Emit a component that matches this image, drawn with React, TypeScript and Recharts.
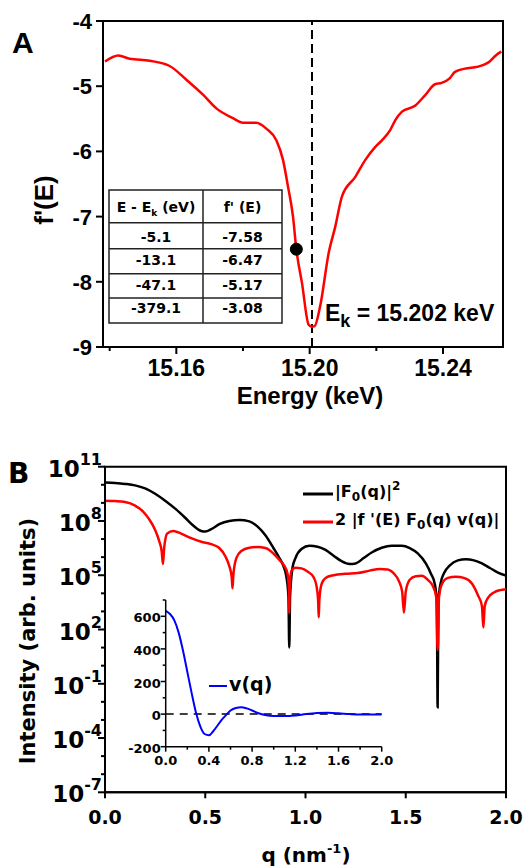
import React from 'react';
import { LineChart, Line, XAxis, YAxis, ReferenceLine, ReferenceDot, ReferenceArea } from 'recharts';

const ARIAL = '"Liberation Sans", Arial, sans-serif';
const DEJAVU = '"DejaVu Sans", sans-serif';

// ---------- Panel A data ----------
const energyKeV = [
  15.1386, 15.1426, 15.146, 15.152, 15.158, 15.163, 15.168, 15.172, 15.177, 15.18,
  15.184, 15.187, 15.19, 15.192, 15.1935, 15.195, 15.196, 15.1977, 15.1997, 15.2006,
  15.2015, 15.2032, 15.2057, 15.2077, 15.2097, 15.2137, 15.2167, 15.2197, 15.2217, 15.2242,
  15.2257, 15.2277, 15.2316, 15.2346, 15.2376, 15.2396, 15.242, 15.2436, 15.2466, 15.2505,
  15.254, 15.256, 15.2575,
];
const fPrime = [
  -4.62, -4.53, -4.58, -4.61, -4.69, -4.9, -5.13, -5.34, -5.49, -5.56,
  -5.56, -5.65, -5.83, -6.13, -6.54, -7.0, -7.5, -8.02, -8.66, -8.69,
  -8.68, -8.36, -7.56, -7.15, -6.69, -6.39, -6.13, -5.93, -5.83, -5.67,
  -5.52, -5.39, -5.3, -5.14, -4.97, -4.95, -4.88, -4.78, -4.73, -4.7,
  -4.62, -4.52, -4.47,
];
const edgeEnergy = 15.2007;
const markedEnergy = 15.196;
const markedF = -7.5;
const tableHeader = ['E - E', "f' (E)"];
const tableDeltaE = ['-5.1', '-13.1', '-47.1', '-379.1'];
const tableF = ['-7.58', '-6.47', '-5.17', '-3.08'];
const xTicksA = [15.14, 15.16, 15.18, 15.2, 15.22, 15.24];
const xLabelsA = [15.16, 15.2, 15.24];
const yTicksA = [-9, -8, -7, -6, -5, -4];

// ---------- Panel B data ----------
const qF0 = [
  0, 0.05, 0.1, 0.15, 0.2, 0.25, 0.3, 0.35, 0.4, 0.44,
  0.48, 0.5, 0.53, 0.57, 0.62, 0.67, 0.72, 0.76, 0.8, 0.84,
  0.87, 0.89, 0.905, 0.915, 0.919, 0.923, 0.935, 0.95, 0.98, 1.02,
  1.06, 1.1, 1.14, 1.18, 1.22, 1.25, 1.29, 1.33, 1.38, 1.43,
  1.48, 1.52, 1.56, 1.6, 1.625, 1.645, 1.655, 1.659, 1.663, 1.675,
  1.69, 1.72, 1.76, 1.8, 1.84, 1.88, 1.92, 1.96, 2.0,
];
const intF0 = [
  1.35e10, 1.26e10, 1.12e10, 9.3e9, 6.3e9, 3.2e9, 1.32e9, 4.8e8, 1.5e8, 5.6e7,
  2.8e7, 2.6e7, 3.5e7, 6.6e7, 1.0e8, 1.12e8, 9.5e7, 5.0e7, 1.6e7, 3.2e6,
  8.9e5, 3.2e5, 7.9e4, 6.3e3, 1.0e1, 6.3e3, 2.5e5, 8.9e5, 2.8e6, 4.2e6,
  3.8e6, 2.5e6, 1.2e6, 6.0e5, 4.2e5, 4.5e5, 8.9e5, 1.8e6, 3.3e6, 4.3e6,
  4.3e6, 3.2e6, 1.6e6, 4.5e5, 1.26e5, 3.2e4, 3.2e3, 5.0e-3, 4.0e3, 4.0e4,
  1.26e5, 3.5e5, 6.6e5, 7.6e5, 6.6e5, 4.5e5, 2.5e5, 1.4e5, 9.5e4,
];
const qCross = [
  0, 0.05, 0.1, 0.15, 0.19, 0.22, 0.25, 0.27, 0.283, 0.289,
  0.295, 0.31, 0.34, 0.38, 0.43, 0.48, 0.53, 0.57, 0.6, 0.62,
  0.632, 0.636, 0.64, 0.655, 0.68, 0.72, 0.76, 0.8, 0.84, 0.87,
  0.895, 0.91, 0.917, 0.919, 0.921, 0.93, 0.95, 0.98, 1.01, 1.04,
  1.055, 1.063, 1.066, 1.069, 1.08, 1.1, 1.14, 1.2, 1.26, 1.32,
  1.37, 1.41, 1.44, 1.465, 1.482, 1.491, 1.5, 1.52, 1.55, 1.58,
  1.61, 1.635, 1.652, 1.659, 1.666, 1.68, 1.71, 1.75, 1.79, 1.83,
  1.86, 1.88, 1.887, 1.894, 1.91, 1.94, 1.97, 2.0,
];
const intCross = [
  1.32e9, 1.26e9, 1.12e9, 7.1e8, 3.3e8, 1.26e8, 3.2e7, 7.9e6, 2.0e6, 4.2e5,
  3.2e6, 2.0e7, 2.8e7, 2.0e7, 1.12e7, 7.1e6, 5.2e6, 3.2e6, 1.12e6, 3.2e5,
  7.9e4, 1.9e4, 1.0e5, 8.9e5, 2.2e6, 3.3e6, 3.6e6, 3.2e6, 1.6e6, 7.1e5,
  3.2e5, 1.26e5, 2.0e4, 7.8e2, 2.0e4, 1.8e5, 2.6e5, 2.4e5, 1.6e5, 7.9e4,
  2.5e4, 4.0e3, 4.7e2, 4.0e3, 3.2e4, 7.1e4, 1.0e5, 1.2e5, 1.32e5, 1.8e5,
  2.2e5, 2.1e5, 1.26e5, 5.0e4, 1.26e4, 8.5e2, 1.26e4, 5.6e4, 8.9e4, 9.5e4,
  5.6e4, 2.5e4, 6.3e3, 7.4e0, 6.3e3, 3.2e4, 7.1e4, 8.3e4, 7.1e4, 3.5e4,
  7.9e3, 2.0e3, 1.3e2, 2.0e3, 5.6e3, 1.12e4, 1.5e4, 1.7e4,
];
const yTicksB = [
  1e-7, 1e-6, 1e-5, 1e-4, 1e-3, 1e-2, 1e-1, 1e0, 1e1, 1e2,
  1e3, 1e4, 1e5, 1e6, 1e7, 1e8, 1e9, 1e10, 1e11,
];
const yLabelExpB = [-7, -4, -1, 2, 5, 8, 11];
const xTicksB = [0, 0.5, 1, 1.5, 2];

// ---------- Inset data ----------
const qV = [
  0, 0.04, 0.08, 0.12, 0.16, 0.2, 0.24, 0.28, 0.32, 0.36,
  0.4, 0.44, 0.48, 0.52, 0.56, 0.6, 0.65, 0.7, 0.75, 0.8,
  0.86, 0.92, 1.0, 1.1, 1.2, 1.3, 1.4, 1.5, 1.6, 1.7,
  1.8, 1.9, 2.0,
];
const vOfQ = [
  634, 614, 575, 500, 390, 260, 130, 10, -75, -122,
  -130, -105, -70, -34, -5, 22, 38, 42, 35, 22,
  5, -6, -12, -12, -8, 0, 6, 8, 5, 0,
  -3, -3, -2,
];
const xTicksInset = [0, 0.2, 0.4, 0.6, 0.8, 1.0, 1.2, 1.4, 1.6, 1.8, 2.0];
const xLabelsInset = [0, 0.4, 0.8, 1.2, 1.6, 2.0];
const yTicksInset = [-200, -100, 0, 100, 200, 300, 400, 500, 600, 700];
const yLabelsInset = [-200, 0, 200, 400, 600];

const dataA = energyKeV.map((e, i) => ({ e, f: fPrime[i] }));
const dataF0 = qF0.map((q, i) => ({ q, I: intF0[i] }));
const dataCross = qCross.map((q, i) => ({ q, I: intCross[i] }));
const dataV = qV.map((q, i) => ({ q, v: vOfQ[i] }));

const near = (a: number, list: number[]) => list.some((m) => Math.abs(m - a) < 1e-6);

const AXTick = (p: any) => {
  const { x, y, payload } = p;
  const v = payload.value;
  const major = near(v, xLabelsA);
  return (
    <g>
      <line x1={x} x2={x} y1={y} y2={y + (major ? 7 : 4)} stroke="#000" strokeWidth={2} />
      {major && (
        <text x={x} y={y + 29} textAnchor="middle" fontFamily={ARIAL} fontWeight={700} fontSize={23} fill="#000">
          {v.toFixed(2)}
        </text>
      )}
    </g>
  );
};

const AYTick = (p: any) => {
  const { x, y, payload } = p;
  return (
    <g>
      <line x1={x - 7} x2={x} y1={y} y2={y} stroke="#000" strokeWidth={2} />
      <text x={x - 11} y={y + 8} textAnchor="end" fontFamily={ARIAL} fontWeight={700} fontSize={22} fill="#000">
        {String(payload.value)}
      </text>
    </g>
  );
};

const BXTick = (p: any) => {
  const { x, y, payload } = p;
  return (
    <g>
      <line x1={x} x2={x} y1={y} y2={y + 6} stroke="#000" strokeWidth={2} />
      <text x={x} y={y + 32} textAnchor="middle" fontFamily={DEJAVU} fontWeight={700} fontSize={19} fill="#000">
        {payload.value.toFixed(1)}
      </text>
    </g>
  );
};

const BYTick = (p: any) => {
  const { x, y, payload } = p;
  const e = Math.round(Math.log10(payload.value));
  const major = yLabelExpB.includes(e);
  return (
    <g>
      <line x1={x - (major ? 7 : 4)} x2={x} y1={y} y2={y} stroke="#000" strokeWidth={2} />
      {major && (
        <text x={x - 3} y={y + 10} textAnchor="end" fontFamily={DEJAVU} fontWeight={700} fill="#000">
          <tspan fontSize={23}>10</tspan>
          <tspan fontSize={16} dy={-12}>{String(e)}</tspan>
        </text>
      )}
    </g>
  );
};

const IXTick = (p: any) => {
  const { x, y, payload } = p;
  const v = payload.value;
  const major = near(v, xLabelsInset);
  return (
    <g>
      <line x1={x} x2={x} y1={y} y2={y + (major ? 5 : 3)} stroke="#000" strokeWidth={1.5} />
      {major && (
        <text x={x} y={y + 18} textAnchor="middle" fontFamily={DEJAVU} fontWeight={700} fontSize={13} fill="#000">
          {v.toFixed(1)}
        </text>
      )}
    </g>
  );
};

const IYTick = (p: any) => {
  const { x, y, payload } = p;
  const v = payload.value;
  const major = near(v, yLabelsInset);
  return (
    <g>
      <line x1={x - (major ? 5 : 3)} x2={x} y1={y} y2={y} stroke="#000" strokeWidth={1.5} />
      {major && (
        <text x={x - 5} y={y + 6} textAnchor="end" fontFamily={DEJAVU} fontWeight={700} fontSize={13} fill="#000">
          {String(v)}
        </text>
      )}
    </g>
  );
};

const axisLine = { stroke: '#000', strokeWidth: 2 };

// table layout
const tblX0 = 109, tblX1 = 203, tblX2 = 282;
const tblRowLines = [190, 222.7, 248.7, 273.7, 298, 323];
const tblBaselines = [211.5, 242, 265, 289.5, 313];

export default function App() {
  return (
    <div style={{ position: 'absolute', left: 0, top: 0, width: 529, height: 868, background: '#fff', overflow: 'hidden' }}>
      {/* Panel A */}
      <div style={{ position: 'absolute', left: 0, top: 0 }}>
        <LineChart width={529} height={420} margin={{ top: 21, right: 26, bottom: 33, left: 0 }}>
          <XAxis
            dataKey="e" type="number" domain={[15.138, 15.258]} allowDataOverflow
            ticks={xTicksA} interval={0} tick={<AXTick />} tickLine={false} tickSize={0} tickMargin={0}
            height={40} axisLine={axisLine}
          />
          <YAxis
            type="number" domain={[-9, -4]} allowDataOverflow ticks={yTicksA} interval={0}
            tick={<AYTick />} tickLine={false} tickSize={0} tickMargin={0} width={103} axisLine={axisLine}
          />
          <ReferenceArea x1={15.138} x2={15.258} y1={-9} y2={-4} fill="none" fillOpacity={0} stroke="#000" strokeWidth={2} />
          <ReferenceLine x={edgeEnergy} stroke="#000" strokeWidth={2} strokeDasharray="9 5" />
          <Line data={dataA} dataKey="f" type="monotone" stroke="#ff0000" strokeWidth={2.5} dot={false} isAnimationActive={false} />
          <ReferenceDot x={markedEnergy} y={markedF} r={6} fill="#000" stroke="#000" />
        </LineChart>
      </div>

      {/* Panel B */}
      <div style={{ position: 'absolute', left: 0, top: 420 }}>
        <LineChart width={529} height={448} margin={{ top: 46.7, right: 23, bottom: 35.7, left: 0 }}>
          <XAxis
            dataKey="q" type="number" domain={[0, 2]} allowDataOverflow ticks={xTicksB} interval={0}
            tick={<BXTick />} tickLine={false} tickSize={0} tickMargin={0} height={40} axisLine={axisLine}
          />
          <YAxis
            type="number" scale="log" domain={[1e-7, 1e11]} allowDataOverflow ticks={yTicksB} interval={0}
            tick={<BYTick />} tickLine={false} tickSize={0} tickMargin={0} width={105} axisLine={axisLine}
          />
          <ReferenceArea x1={0} x2={2} y1={1e-7} y2={1e11} fill="none" fillOpacity={0} stroke="#000" strokeWidth={2} />
          <Line data={dataF0} dataKey="I" type="monotone" stroke="#000" strokeWidth={2.5} dot={false} isAnimationActive={false} />
          <Line data={dataCross} dataKey="I" type="monotone" stroke="#ff0000" strokeWidth={2.5} dot={false} isAnimationActive={false} />
        </LineChart>
      </div>

      {/* Inset */}
      <div style={{ position: 'absolute', left: 100, top: 590 }}>
        <LineChart width={310} height={190} margin={{ top: 10, right: 28.3, bottom: 8.3, left: 15.7 }}>
          <XAxis
            dataKey="q" type="number" domain={[0, 2]} allowDataOverflow ticks={xTicksInset} interval={0}
            tick={<IXTick />} tickLine={false} tickSize={0} tickMargin={0} height={25}
            axisLine={{ stroke: '#000', strokeWidth: 1.5 }}
          />
          <YAxis
            type="number" domain={[-200, 700]} allowDataOverflow ticks={yTicksInset} interval={0}
            tick={<IYTick />} tickLine={false} tickSize={0} tickMargin={0} width={50}
            axisLine={{ stroke: '#000', strokeWidth: 1.5 }}
          />
          <ReferenceLine y={0} stroke="#000" strokeWidth={1.5} strokeDasharray="8 6" />
          <Line data={dataV} dataKey="v" type="monotone" stroke="#0000ff" strokeWidth={2} dot={false} isAnimationActive={false} />
        </LineChart>
      </div>

      {/* Text overlay */}
      <svg width={529} height={868} style={{ position: 'absolute', left: 0, top: 0, pointerEvents: 'none' }}>
        {/* Panel A texts */}
        <text x={12} y={53} fontFamily={ARIAL} fontWeight={700} fontSize={30} fill="#000">A</text>
        <text transform="translate(53,200) rotate(-90)" textAnchor="middle" fontFamily={ARIAL} fontWeight={700} fontSize={26} fill="#000">f'(E)</text>
        <text x={310} y={404} textAnchor="middle" fontFamily={ARIAL} fontWeight={700} fontSize={24} fill="#000">Energy (keV)</text>
        <text x={325} y={321} fontFamily={ARIAL} fontWeight={700} fontSize={23} fill="#000">
          E<tspan fontSize={18} dy={6}>k</tspan><tspan dy={-6}> = 15.202 keV</tspan>
        </text>

        {/* table */}
        <rect x={tblX0} y={tblRowLines[0]} width={tblX2 - tblX0} height={tblRowLines[5] - tblRowLines[0]} fill="#fff" stroke="#222" strokeWidth={1.5} />
        <line x1={tblX1} x2={tblX1} y1={tblRowLines[0]} y2={tblRowLines[5]} stroke="#222" strokeWidth={1.5} />
        {tblRowLines.slice(1, 5).map((yy, i) => (
          <line key={i} x1={tblX0} x2={tblX2} y1={yy} y2={yy} stroke="#222" strokeWidth={1.5} />
        ))}
        <text x={(tblX0 + tblX1) / 2} y={tblBaselines[0]} textAnchor="middle" fontFamily={DEJAVU} fontWeight={700} fontSize={14} fill="#000">
          {tableHeader[0]}<tspan fontSize={9} dy={4}>k</tspan><tspan dy={-4}> (eV)</tspan>
        </text>
        <text x={(tblX1 + tblX2) / 2} y={tblBaselines[0]} textAnchor="middle" fontFamily={DEJAVU} fontWeight={700} fontSize={14} fill="#000">
          {tableHeader[1]}
        </text>
        {tableDeltaE.map((s, i) => (
          <text key={'d' + i} x={(tblX0 + tblX1) / 2} y={tblBaselines[i + 1]} textAnchor="middle" fontFamily={DEJAVU} fontWeight={700} fontSize={14} fill="#000">{s}</text>
        ))}
        {tableF.map((s, i) => (
          <text key={'f' + i} x={(tblX1 + tblX2) / 2} y={tblBaselines[i + 1]} textAnchor="middle" fontFamily={DEJAVU} fontWeight={700} fontSize={14} fill="#000">{s}</text>
        ))}

        {/* Panel B texts */}
        <text x={8} y={483} fontFamily={DEJAVU} fontWeight={700} fontSize={28} fill="#000">B</text>
        <text transform="translate(35,641) rotate(-90)" textAnchor="middle" fontFamily={DEJAVU} fontWeight={700} fontSize={21} fill="#000">Intensity (arb. units)</text>
        <text x={306} y={862} textAnchor="middle" fontFamily={DEJAVU} fontWeight={700} fontSize={20} fill="#000">
          q (nm<tspan fontSize={13} dy={-9}>-1</tspan><tspan dy={9}>)</tspan>
        </text>

        {/* legend */}
        <line x1={303} x2={333} y1={494} y2={494} stroke="#000" strokeWidth={3} />
        <text x={335} y={497} fontFamily={DEJAVU} fontWeight={700} fontSize={16} fill="#000">
          |F<tspan fontSize={12} dy={4}>0</tspan><tspan dy={-4}>(q)|</tspan><tspan fontSize={12} dy={-7}>2</tspan>
        </text>
        <line x1={303} x2={333} y1={522} y2={522} stroke="#ff0000" strokeWidth={3} />
        <text x={335} y={525} fontFamily={DEJAVU} fontWeight={700} fontSize={16} fill="#000">
          2 |f '(E) F<tspan fontSize={12} dy={4}>0</tspan><tspan dy={-4}>(q) v(q)|</tspan>
        </text>

        {/* inset legend */}
        <line x1={209} x2={227} y1={686} y2={686} stroke="#0000ff" strokeWidth={2} />
        <text x={229} y={691} fontFamily={DEJAVU} fontWeight={700} fontSize={19} fill="#000">v(q)</text>
      </svg>
    </div>
  );
}
